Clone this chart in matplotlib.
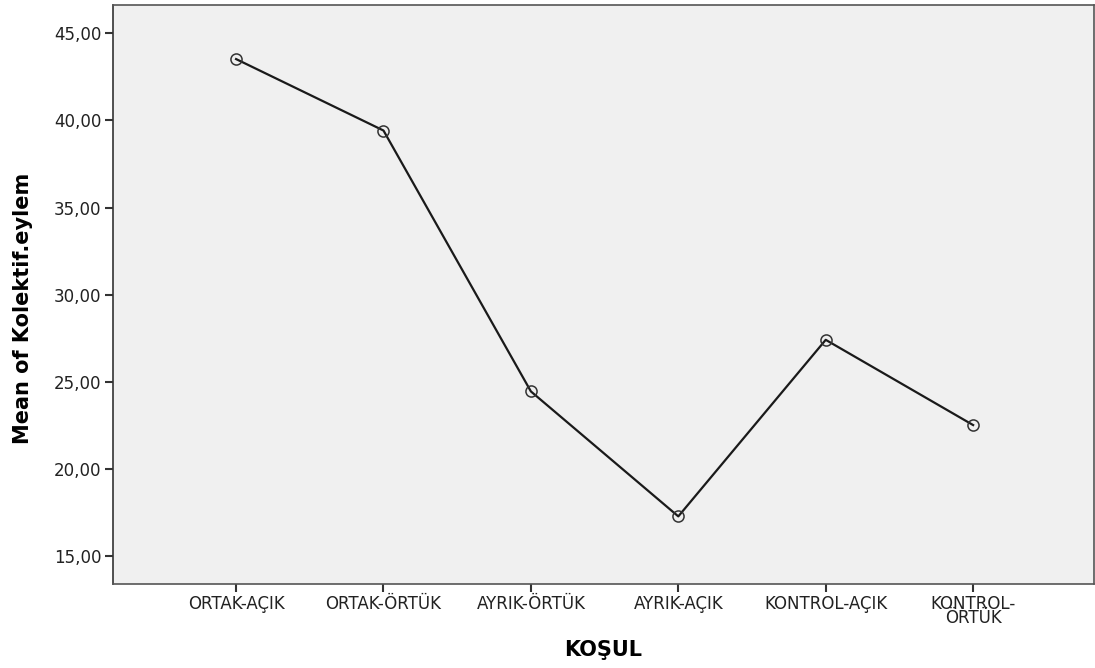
import matplotlib
matplotlib.use("Agg")
import matplotlib.pyplot as plt
from matplotlib.ticker import FuncFormatter

plt.rcParams['font.family'] = ['DejaVu Sans']

categories = ["ORTAK-AÇIK", "ORTAK-ÖRTÜK", "AYRIK-ÖRTÜK", "AYRIK-AÇIK", "KONTROL-AÇIK", "KONTROL-\nÖRTÜK"]
means = [43.52, 39.42, 24.45, 17.28, 27.41, 22.52]
yticks = [15, 20, 25, 30, 35, 40, 45]

fig = plt.figure(figsize=(10.95, 6.68), dpi=100)
ax_h = 584 - 4.7
ax_w = 1094 - 113
ax = fig.add_axes([113/1095, 1-584/668, ax_w/1095, ax_h/668])
ax.set_facecolor('#f0f0f0')

x = list(range(len(categories)))
ax.plot(x, means, color='#1a1a1a', linewidth=1.6, marker='o', markersize=8,
        markerfacecolor='none', markeredgecolor='#333333', markeredgewidth=1.1)

ax.set_xlim(-0.835, len(categories) - 1 + 0.82)
ax.set_ylim(13.4, 46.64)
ax.set_yticks(yticks)
ax.yaxis.set_major_formatter(FuncFormatter(lambda v, p: f"{v:.2f}".replace('.', ',')))
ax.set_xticks(x)
ax.set_xticklabels(categories, linespacing=0.72)

for s in ax.spines.values():
    s.set_color('#555555')
    s.set_linewidth(1.2)
ax.spines['left'].set_color('#333333')

ax.tick_params(axis='y', direction='out', length=6, width=1.5, color='#333333',
               labelsize=12, labelcolor='#222222', pad=2.5)
ax.tick_params(axis='x', direction='out', length=6, width=1.5, color='#333333',
               labelsize=12, labelcolor='#222222', pad=2)

ax.set_ylabel("Mean of Kolektif.eylem", fontsize=15, fontweight='bold')
ax.yaxis.set_label_coords((33 - 113)/ax_w, 1 - (308 - 4.7)/ax_h)
ax.set_xlabel("KOŞUL", fontsize=15, fontweight='bold')
ax.xaxis.set_label_coords(0.5, -(640 - 584)/ax_h)

fig.savefig("out.png", dpi=100)
